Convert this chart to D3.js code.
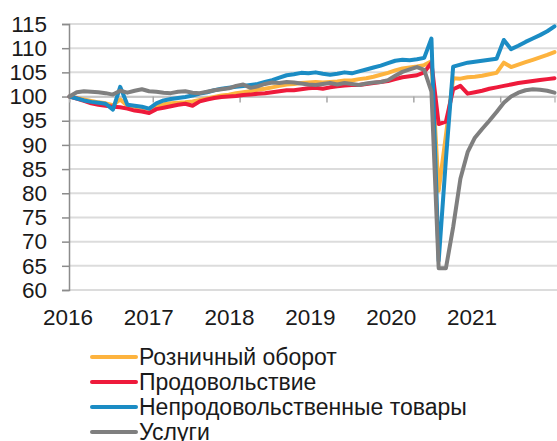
<!DOCTYPE html>
<html>
<head>
<meta charset="utf-8">
<script src="https://cdn.jsdelivr.net/npm/d3@7"></script>
<style>
  body { margin: 0; background: #fff; }
  svg { display: block; font-family: "Liberation Sans", Arial, sans-serif; }
</style>
</head>
<body>
<div id="chart"></div>
<script>
// monthly index, Jan 2016 = 100
var months = d3.timeMonth.range(new Date(2016, 0, 1), new Date(2021, 8, 1));
var yearLabels = ["2016", "2017", "2018", "2019", "2020", "2021"];
var yTicks = [60, 65, 70, 75, 80, 85, 90, 95, 100, 105, 110, 115];

var retail = [100, 99.7, 99.4, 99.1, 98.8, 98.6, 98.2, 99.4, 98.1, 97.9, 97.7, 97.4,
  98, 98.4, 98.6, 98.7, 98.8, 99, 99.3, 99.6, 99.9, 100.2, 100.4, 100.7,
  100.9, 101.1, 101.4, 101.6, 101.9, 102.2, 102.5, 102.6, 102.8, 102.9, 103, 102.9,
  103, 103.1, 103.3, 103.3, 103.6, 103.8, 104.1, 104.5, 104.9, 105.4, 105.8, 106,
  106.2, 106.5, 107.3, 80.5, 92, 103.8, 103.7, 104, 104.1, 104.3, 104.6, 104.9,
  107, 106.1, 106.6, 107.1, 107.6, 108.1, 108.6, 109.2];

var food = [100, 99.6, 99.1, 98.6, 98.3, 98.1, 97.9, 97.8, 97.5, 97.1, 96.9, 96.6,
  97.4, 97.7, 98, 98.3, 98.5, 98.1, 99, 99.4, 99.7, 99.9, 100, 100.1,
  100.3, 100.4, 100.6, 100.7, 100.9, 101.1, 101.3, 101.3, 101.5, 101.7, 101.8, 101.6,
  101.9, 102.1, 102.3, 102.4, 102.4, 102.6, 102.8, 103, 103.2, 103.6, 104, 104.2,
  104.4, 105, 107, 94.3, 94.8, 101.5, 102.2, 100.6, 100.9, 101.2, 101.6, 101.9,
  102.2, 102.5, 102.8, 103, 103.2, 103.4, 103.6, 103.8];

var nonFood = [100, 99.6, 99.2, 98.9, 98.7, 98.5, 97.3, 102, 98.3, 98.1, 97.9, 97.5,
  98.6, 99.2, 99.5, 99.7, 99.9, 100.2, 100.6, 100.9, 101.3, 101.6, 101.8, 102,
  102.2, 102.4, 102.6, 103, 103.4, 103.9, 104.4, 104.6, 104.9, 104.8, 105, 104.7,
  104.5, 104.7, 105, 104.8, 105.2, 105.6, 106, 106.4, 106.9, 107.4, 107.6, 107.5,
  107.7, 108, 112, 66, 87, 106.2, 106.6, 107, 107.2, 107.4, 107.6, 107.8,
  111.7, 109.8, 110.5, 111.3, 112, 112.7, 113.5, 114.5];

var services = [100, 100.9, 101.1, 101, 100.9, 100.7, 100.4, 101.2, 100.8, 101.2, 101.5, 101.1,
  101, 100.8, 100.7, 101, 101.1, 100.8, 100.7, 101, 101.3, 101.5, 101.7, 102.2,
  102.5, 101.8, 102.1, 102.6, 102.9, 102.8, 103, 102.9, 102.7, 102.5, 102.4, 102.6,
  102.8, 102.5, 102.8, 102.6, 102.4, 102.7, 102.9, 103, 103.4, 104.3, 105.1, 105.6,
  106.1, 105.5, 101, 64.5, 64.5, 73, 83, 88.5, 91.5, 93.3, 95, 96.8,
  98.7, 100, 100.8, 101.3, 101.5, 101.4, 101.2, 100.8];

var seriesNames = ["Розничный оборот", "Продовольствие", "Непродовольственные товары", "Услуги"];
var seriesColors = ["#FDB33E", "#EE1A3B", "#1B8CC4", "#7F7F7F"];
var seriesValues = [retail, food, nonFood, services];

var width = 557, height = 441;

var svg = d3.select("#chart").append("svg")
    .attr("width", width)
    .attr("height", height);

// scales
var x = d3.scaleLinear()
    .domain([0, months.length - 1])
    .range([69.5, 554.5]);

var y = d3.scaleLinear()
    .domain([60, 115])
    .range([290, 24]);

var xLabel = d3.scalePoint()
    .domain(yearLabels)
    .range([68, 472]);

// gridlines
svg.append("g")
    .selectAll("line")
    .data(yTicks)
    .enter().append("line")
    .attr("x1", 69)
    .attr("x2", width)
    .attr("y1", function(d) { return y(d); })
    .attr("y2", function(d) { return y(d); })
    .attr("stroke", "#DCDCDC")
    .attr("stroke-width", 2);

// y axis
var yAxis = svg.append("g")
    .attr("transform", "translate(69,0)")
    .call(d3.axisLeft(y).tickValues(yTicks).tickSize(7).tickPadding(15));
yAxis.select(".domain").attr("stroke", "#8C8C8C").attr("stroke-width", 1.5);
yAxis.selectAll(".tick line").attr("stroke", "#8C8C8C").attr("stroke-width", 1.5);
yAxis.selectAll(".tick text")
    .attr("font-size", 22.5)
    .attr("font-family", "Liberation Sans, Arial, sans-serif")
    .attr("fill", "#1a1a1a");

// category axis crossing at 100, ticks between December and January
var yearTicks = [11.5, 23.5, 35.5, 47.5, 59.5];
var xAxis = svg.append("g")
    .attr("transform", "translate(0," + y(100) + ")")
    .call(d3.axisBottom(x).tickValues(yearTicks).tickSize(6).tickFormat(""));
xAxis.select(".domain").attr("stroke", "#BDBDBD").attr("stroke-width", 1.5);
xAxis.selectAll(".tick line").attr("stroke", "#A6A6A6").attr("stroke-width", 1.5);

// year labels
svg.append("g")
    .selectAll("text")
    .data(yearLabels)
    .enter().append("text")
    .attr("x", function(d) { return xLabel(d); })
    .attr("y", 325)
    .attr("text-anchor", "middle")
    .attr("font-size", 22.5)
    .attr("fill", "#1a1a1a")
    .text(function(d) { return d; });

// lines
var line = d3.line()
    .x(function(d, i) { return x(i); })
    .y(function(d) { return y(d); });

svg.append("g")
    .selectAll("path")
    .data(seriesValues)
    .enter().append("path")
    .attr("d", line)
    .attr("fill", "none")
    .attr("stroke", function(d, i) { return seriesColors[i]; })
    .attr("stroke-width", 4)
    .attr("stroke-linejoin", "round")
    .attr("stroke-linecap", "round");

// legend
var legend = svg.append("g")
    .selectAll("g")
    .data(seriesNames)
    .enter().append("g")
    .attr("transform", function(d, i) { return "translate(0," + (357 + i * 25) + ")"; });

legend.append("line")
    .attr("x1", 92)
    .attr("x2", 136)
    .attr("stroke", function(d, i) { return seriesColors[i]; })
    .attr("stroke-width", 4)
    .attr("stroke-linecap", "round");

legend.append("text")
    .attr("x", 139)
    .attr("y", 8)
    .attr("font-size", 23)
    .attr("fill", "#1a1a1a")
    .text(function(d) { return d; });
</script>
</body>
</html>
